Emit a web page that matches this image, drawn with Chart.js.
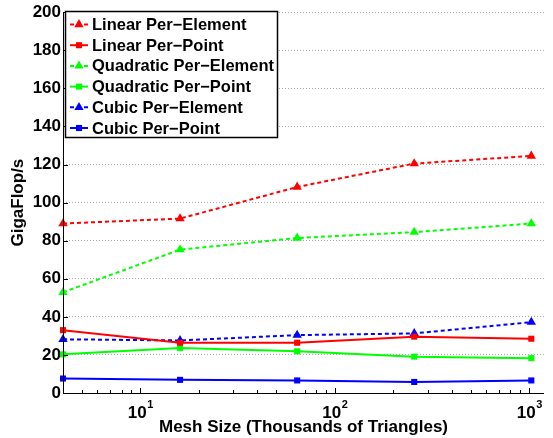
<!DOCTYPE html>
<html>
<head>
<meta charset="utf-8">
<script src="https://cdn.jsdelivr.net/npm/chart.js@4.4.1/dist/chart.umd.min.js"></script>
<style>
  html, body { margin: 0; padding: 0; background: #fff; }
  #wrap { width: 553px; height: 438px; }
</style>
</head>
<body>
<div id="wrap"><canvas id="grafico" width="553" height="438"></canvas></div>
<script>
// datos
var meshSizes   = [4, 16, 64, 256, 1024];
var linearElem  = [89.0, 91.6, 108.2, 120.5, 124.5];
var linearPoint = [33.0, 26.4, 26.4, 29.6, 28.5];
var quadElem    = [52.9, 75.3, 81.4, 84.5, 89.0];
var quadPoint   = [20.3, 23.6, 21.9, 19.1, 18.3];
var cubicElem   = [28.2, 27.6, 30.4, 31.3, 37.2];
var cubicPoint  = [7.6, 6.9, 6.6, 5.8, 6.6];
var xTicks      = [10, 100, 1000];
var xTickBase   = ['10', '10', '10'];
var xTickExp    = ['1', '2', '3'];
var yTicks      = [0, 20, 40, 60, 80, 100, 120, 140, 160, 180, 200];

var FONT = '"Liberation Sans", Arial, Helvetica, sans-serif';

function puntos(vals) {
  var out = [];
  for (var i = 0; i < meshSizes.length; i++) out.push({ x: meshSizes[i], y: vals[i] });
  return out;
}

function serie(label, vals, color, dashed) {
  return {
    label: label,
    data: puntos(vals),
    borderColor: color,
    backgroundColor: color,
    borderWidth: 2,
    borderDash: dashed ? [4, 3] : [],
    pointStyle: dashed ? 'triangle' : 'rect',
    pointRadius: dashed ? 5.4 : 4.3,
    pointBorderWidth: 0,
    pointBackgroundColor: color,
    tension: 0,
    fill: false,
    clip: false
  };
}

function marcador(ctx, tipo, x, y, r, color) {
  ctx.fillStyle = color;
  ctx.beginPath();
  if (tipo === 'triangle') {
    ctx.moveTo(x, y - r);
    ctx.lineTo(x + r * 0.866, y + r * 0.5);
    ctx.lineTo(x - r * 0.866, y + r * 0.5);
    ctx.closePath();
  } else {
    var s = r * Math.SQRT1_2;
    ctx.rect(x - s, y - s, 2 * s, 2 * s);
  }
  ctx.fill();
}

// ejes, marcas de escala, etiquetas 10^n y leyenda al estilo MATLAB
var ejesYLeyenda = {
  id: 'ejesYLeyenda',
  afterDraw: function(chart) {
    var ctx = chart.ctx;
    var a = chart.chartArea;
    var sx = chart.scales.x, sy = chart.scales.y;
    ctx.save();
    ctx.strokeStyle = '#000';
    ctx.lineWidth = 1;
    ctx.setLineDash([]);
    ctx.beginPath();
    ctx.moveTo(a.left + 0.5, a.top);
    ctx.lineTo(a.left + 0.5, a.bottom + 0.5);
    ctx.lineTo(a.right, a.bottom + 0.5);
    ctx.stroke();

    // marcas del eje y
    ctx.beginPath();
    for (var i = 0; i < yTicks.length; i++) {
      var py = Math.round(sy.getPixelForValue(yTicks[i])) + 0.5;
      ctx.moveTo(a.left, py);
      ctx.lineTo(a.left + 5, py);
    }
    // marcas del eje x (mayores y menores)
    for (var d = 1; d <= 1000; d *= 10) {
      for (var k = 1; k <= 9; k++) {
        var v = d * k;
        if (v < sx.min || v > sx.max) continue;
        var px = Math.round(sx.getPixelForValue(v)) + 0.5;
        var len = (k === 1) ? 5 : 3;
        ctx.moveTo(px, a.bottom);
        ctx.lineTo(px, a.bottom - len);
      }
    }
    ctx.stroke();

    // etiquetas del eje x con exponente
    ctx.fillStyle = '#000';
    ctx.textBaseline = 'alphabetic';
    ctx.textAlign = 'left';
    for (var t = 0; t < xTicks.length; t++) {
      var cx = sx.getPixelForValue(xTicks[t]);
      ctx.font = 'bold 17px ' + FONT;
      var wb = ctx.measureText(xTickBase[t]).width;
      ctx.font = 'bold 11px ' + FONT;
      var we = ctx.measureText(xTickExp[t]).width;
      var x0t = cx - (wb + we) / 2;
      ctx.font = 'bold 17px ' + FONT;
      ctx.fillText(xTickBase[t], x0t, 418);
      ctx.font = 'bold 11px ' + FONT;
      ctx.fillText(xTickExp[t], x0t + wb + 0.5, 408);
    }

    // leyenda
    var x0 = 65.5, y0 = 11.5, w = 212, h = 126;
    ctx.fillStyle = '#fff';
    ctx.fillRect(x0, y0, w, h);
    ctx.strokeStyle = '#000';
    ctx.lineWidth = 1.5;
    ctx.strokeRect(x0, y0, w, h);
    ctx.font = 'bold 16.5px ' + FONT;
    ctx.textBaseline = 'middle';
    ctx.textAlign = 'left';
    chart.data.datasets.forEach(function(ds, j) {
      var cy = 24.5 + j * 20.7;
      ctx.strokeStyle = ds.borderColor;
      ctx.lineWidth = ds.borderWidth;
      ctx.setLineDash(ds.borderDash);
      ctx.beginPath();
      ctx.moveTo(70, cy);
      ctx.lineTo(88, cy);
      ctx.stroke();
      ctx.setLineDash([]);
      marcador(ctx, ds.pointStyle, 79, cy, ds.pointRadius, ds.borderColor);
      ctx.fillStyle = '#000';
      ctx.fillText(ds.label, 92, cy + 1);
    });
    ctx.restore();
  }
};

new Chart(document.getElementById('grafico').getContext('2d'), {
  type: 'line',
  data: {
    datasets: [
      serie('Linear Per\u2212Element', linearElem, '#ff0000', true),
      serie('Linear Per\u2212Point', linearPoint, '#ff0000', false),
      serie('Quadratic Per\u2212Element', quadElem, '#00ff00', true),
      serie('Quadratic Per\u2212Point', quadPoint, '#00ff00', false),
      serie('Cubic Per\u2212Element', cubicElem, '#0000ff', true),
      serie('Cubic Per\u2212Point', cubicPoint, '#0000ff', false)
    ]
  },
  options: {
    responsive: false,
    animation: false,
    layout: { padding: { top: 10, right: 9, left: 0, bottom: 0 } },
    plugins: { legend: { display: false }, tooltip: { enabled: false } },
    scales: {
      x: {
        type: 'logarithmic',
        min: 4,
        max: 1190,
        afterBuildTicks: function(scale) {
          scale.ticks = xTicks.map(function(v) { return { value: v }; });
        },
        afterFit: function(scale) { scale.height = 45; },
        grid: { display: false },
        border: { display: false },
        ticks: { display: false },
        title: {
          display: true,
          text: 'Mesh Size (Thousands of Triangles)',
          color: '#000',
          font: { family: FONT, size: 17, weight: 'bold', lineHeight: 1.2 },
          padding: { top: 0, bottom: 0 }
        }
      },
      y: {
        type: 'linear',
        min: 0,
        max: 200,
        afterBuildTicks: function(scale) {
          scale.ticks = yTicks.map(function(v) { return { value: v }; });
        },
        afterFit: function(scale) { scale.width = 63; },
        grid: { color: '#a8a8a8', lineWidth: 1, drawTicks: false },
        border: { display: false, dash: [1, 2] },
        ticks: {
          padding: 2,
          color: '#000',
          font: { family: FONT, size: 17, weight: 'bold' }
        },
        title: {
          display: true,
          text: 'GigaFlop/s',
          color: '#000',
          font: { family: FONT, size: 17, weight: 'bold', lineHeight: 1.2 },
          padding: { top: 8, bottom: 0 }
        }
      }
    }
  },
  plugins: [ejesYLeyenda]
});
</script>
</body>
</html>
